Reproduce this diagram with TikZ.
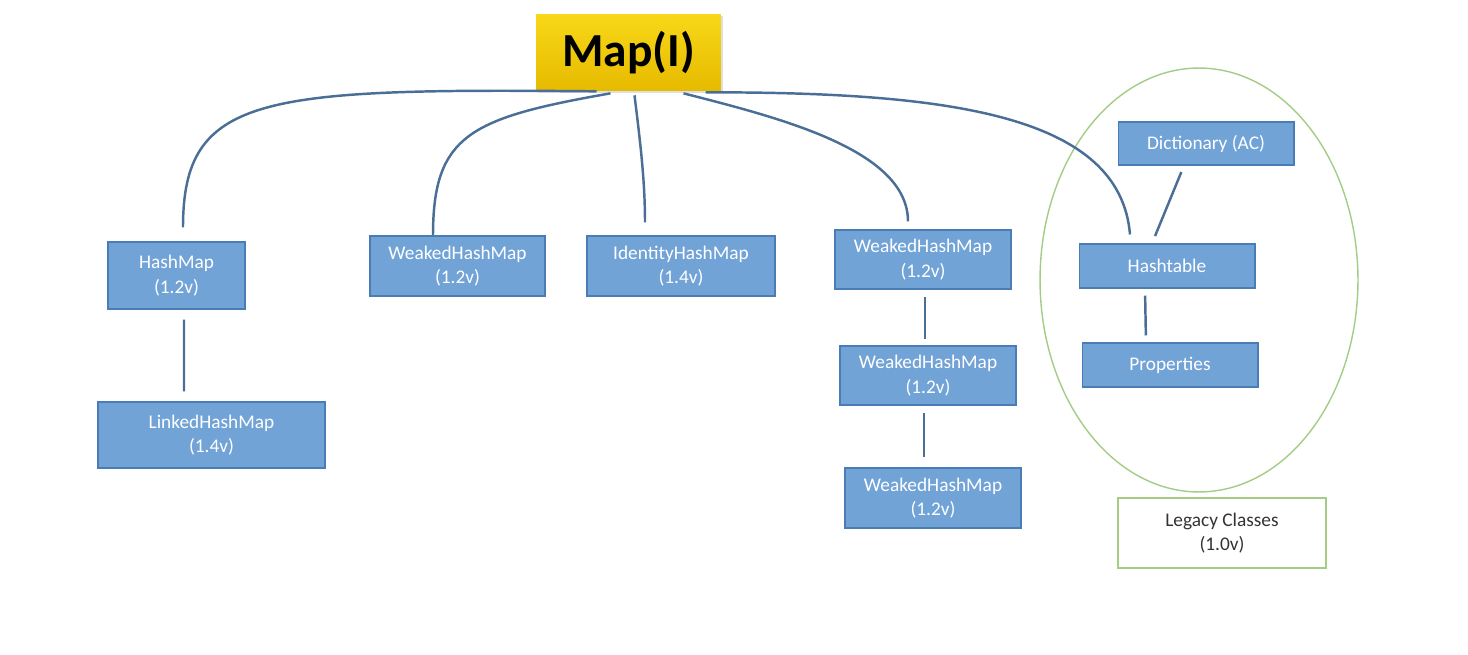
\documentclass[tikz,border=0pt]{standalone}
\usepackage{fontspec}
\setmainfont{Carlito}
\usetikzlibrary{calc,shadows}
\definecolor{clsblue}{HTML}{71A3D7}
\definecolor{clsedge}{HTML}{4A7DB5}
\definecolor{linkcol}{HTML}{4A6E96}
\definecolor{legacygreen}{HTML}{A3CC85}
\definecolor{maptop}{HTML}{F8D818}
\definecolor{mapbot}{HTML}{E6BA00}
\tikzset{
  clsbox/.style={draw=clsedge, fill=clsblue, text=white, line width=0.6pt,
    font=\fontsize{11}{14}\selectfont, align=center, inner sep=0pt},
  link/.style={draw=linkcol, line width=1.4pt},
}

\begin{document}
\begin{tikzpicture}[x=0.02cm, y=-0.02cm]
			%%%%% START %%%%%
			\useasboundingbox (0, 0) rectangle (1468, 655);
			
			\node[top color=maptop, bottom color=mapbot, draw=none, minimum width=3.7cm, minimum height=1.54cm,
			  drop shadow={opacity=0.25, shadow xshift=1pt, shadow yshift=-1pt},
			  font=\fontsize{27}{30}\selectfont\bfseries] (map) at (628.5, 52.5) {Map(I)};
			
			\node[clsbox, minimum width=2.74cm, minimum height=1.34cm] (hashmap) at (176.5, 275.5) {HashMap\\(1.2v)};
			\node[clsbox, minimum width=4.54cm, minimum height=1.32cm] (linked) at (211.5, 435) {LinkedHashMap\\(1.4v)};
			\node[clsbox, minimum width=3.5cm, minimum height=1.2cm] (weakA) at (457.5, 266) {WeakedHashMap\\(1.2v)};
			\node[clsbox, minimum width=3.76cm, minimum height=1.2cm] (ident) at (681, 266) {IdentityHashMap\\(1.4v)};
			\node[clsbox, minimum width=3.52cm, minimum height=1.18cm] (weakB) at (923, 259.5) {WeakedHashMap\\(1.2v)};
			\node[clsbox, minimum width=3.52cm, minimum height=1.18cm] (weakC) at (928, 375.5) {WeakedHashMap\\(1.2v)};
			\node[clsbox, minimum width=3.52cm, minimum height=1.2cm] (weakD) at (933, 498) {WeakedHashMap\\(1.2v)};
			
			\node[clsbox, minimum width=3.52cm, minimum height=0.86cm] (dict) at (1206, 143.5) {Dictionary (AC)};
			\node[clsbox, minimum width=3.52cm, minimum height=0.88cm] (hasht) at (1167, 266) {Hashtable};
			\node[clsbox, minimum width=3.52cm, minimum height=0.88cm] (props) at (1170, 365) {Properties};
			
			\draw[legacygreen, line width=0.8pt] (1199, 280) ellipse [x radius=3.18cm, y radius=4.24cm];
			\node[draw=legacygreen, line width=0.8pt, text=black!80, minimum width=4.16cm, minimum height=1.4cm,
			  align=center, font=\fontsize{11}{14}\selectfont] (legacy) at (1222, 533) {Legacy Classes\\(1.0v)};
			
			% links from Map(I)
			\draw[link] ($(map.south)+(-32, 0)$) .. controls (260, 88) and (183, 95) .. ($(hashmap.north)+(6.5, -14)$);
			\draw[link] ($(map.south)+(-18, 2)$) .. controls (470, 118) and (433, 135) .. ($(weakA.north)+(-24.5, 0)$);
			\draw[link] ($(map.south)+(6, 4)$) .. controls (640, 140) and (645, 180) .. ($(ident.north)+(-36, -13)$);
			\draw[link] ($(map.south)+(55, 2)$) .. controls (780, 118) and (908, 150) .. ($(weakB.north)+(-15, -8)$);
			\draw[link] ($(map.south)+(77, 1)$) .. controls (950, 92) and (1120, 115) .. ($(hasht.north)+(-37, -9)$);
			
			% straight links
			\draw[link, shorten <=0.2cm, shorten >=0.2cm] ($(hashmap.south)+(7.5, 0)$) -- ($(linked.north)+(-27.5, 0)$);
			\draw[link, shorten <=0.14cm, shorten >=0.12cm] ($(weakB.south)+(2, 0)$) -- ($(weakC.north)+(-3, 0)$);
			\draw[link, shorten <=0.14cm, shorten >=0.2cm] ($(weakC.south)+(-4, 0)$) -- ($(weakD.north)+(-9, 0)$);
			\draw[link, shorten <=0.14cm, shorten >=0.16cm] ($(dict.south)+(-22, 0)$) -- ($(hasht.north)+(-15, 0)$);
			\draw[link, shorten <=0.14cm, shorten >=0.14cm] ($(hasht.south)+(-22, 0)$) -- ($(props.north)+(-24, 0)$);
			
			%%%%% END %%%%%
\end{tikzpicture}
\end{document}
